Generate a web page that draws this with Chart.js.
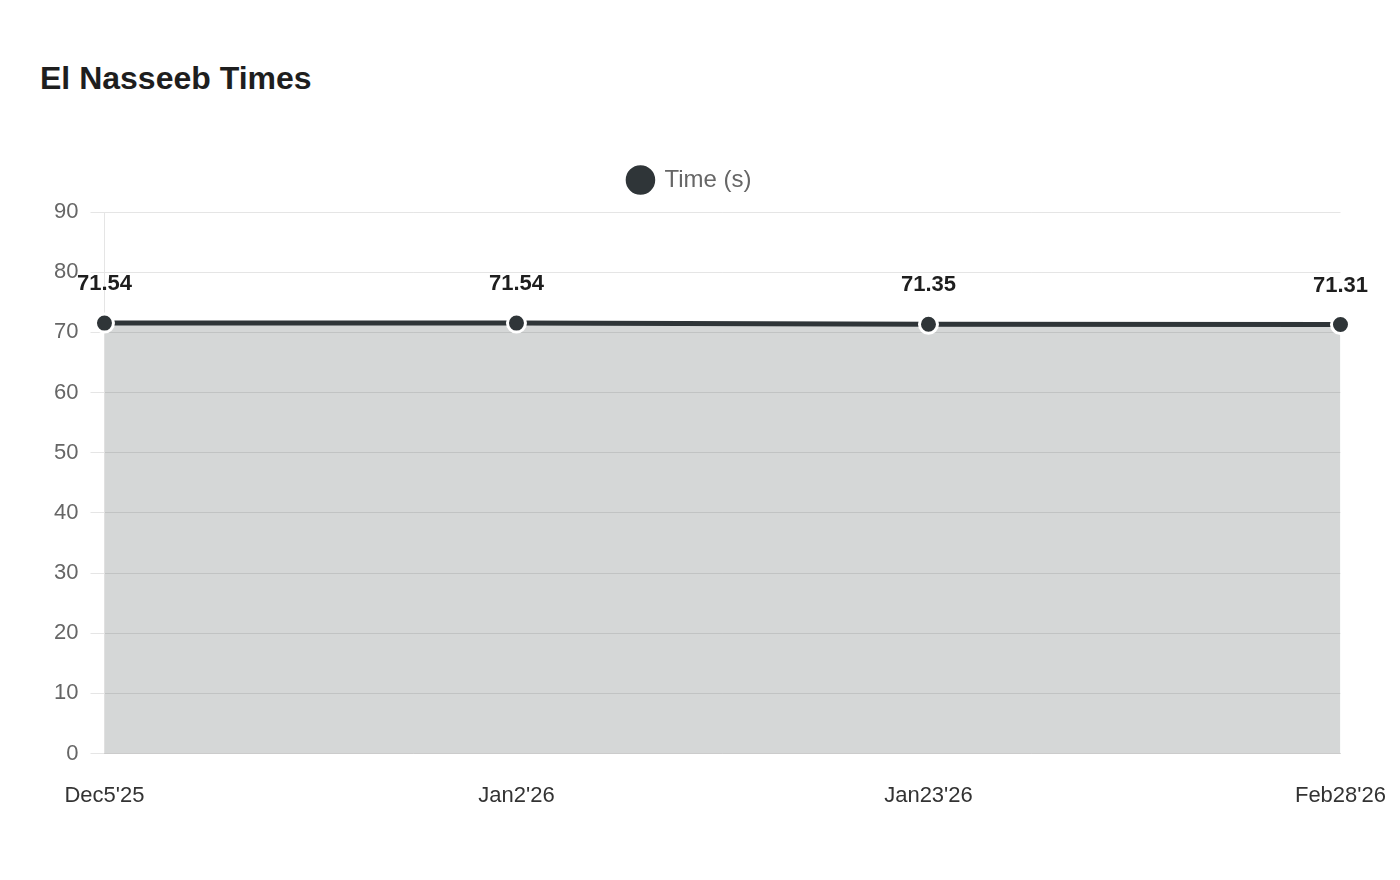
<!DOCTYPE html>
<html>
<head>
<meta charset="utf-8">
<script src="https://cdn.jsdelivr.net/npm/chart.js"></script>
<style>
    html, body { margin: 0; padding: 0; background: #fff; }
    body { width: 1400px; height: 880px; position: relative; overflow: hidden; font-family: "Liberation Sans", Arial, sans-serif; }
    h2 { position: absolute; left: 40px; top: 58px; margin: 0; font-size: 32px; font-weight: bold; color: #1e1e1e; line-height: 40px; }
    #wrap { position: absolute; left: 0; top: 0; width: 1407px; height: 880px; }
</style>
</head>
<body>
<h2>El Nasseeb Times</h2>
<div id="wrap"><canvas id="times-chart"></canvas></div>
<script>
// Data
const raceDates = ["Dec5'25", "Jan2'26", "Jan23'26", "Feb28'26"];
const raceTimes = [71.54, 71.54, 71.35, 71.31];
const yTicks = { min: 0, max: 90, step: 10 };

const lineColor = '#2f3538';
const fillColor = 'rgba(47, 53, 56, 0.2)';

// Value labels above each point (no datalabels plugin available offline)
const valueLabels = {
    id: 'valueLabels',
    afterDatasetsDraw(chart) {
        const { ctx } = chart;
        const meta = chart.getDatasetMeta(0);
        ctx.save();
        ctx.font = 'bold 22px "Liberation Sans", Arial, sans-serif';
        ctx.fillStyle = '#1e1e1e';
        ctx.textAlign = 'center';
        ctx.textBaseline = 'middle';
        meta.data.forEach((pt, i) => {
            ctx.fillText(raceTimes[i].toFixed(2), pt.x, pt.y - 39);
        });
        ctx.restore();
    }
};

// Extra room under the legend, and nudge it a little left
const legendTweak = {
    id: 'legendTweak',
    beforeInit(chart) {
        const fit = chart.legend.fit;
        chart.legend.fit = function () {
            fit.call(this);
            this.height += 10;
        };
    },
    afterLayout(chart) {
        chart.legend.left -= 15;
        chart.legend.right -= 15;
    }
};

Chart.defaults.font.family = '"Liberation Sans", Arial, sans-serif';
Chart.defaults.color = '#666';

new Chart(document.getElementById('times-chart'), {
    type: 'line',
    data: {
        labels: raceDates,
        datasets: [{
            label: 'Time (s)',
            data: raceTimes,
            borderColor: lineColor,
            backgroundColor: fillColor,
            fill: true,
            borderWidth: 5,
            tension: 0,
            pointRadius: 9,
            pointHoverRadius: 9,
            pointBackgroundColor: lineColor,
            pointBorderColor: '#fff',
            pointBorderWidth: 3,
            clip: false
        }]
    },
    options: {
        responsive: true,
        maintainAspectRatio: false,
        animation: false,
        layout: { padding: { left: 42, right: 39, top: 158, bottom: 50 } },
        plugins: {
            legend: {
                display: true,
                labels: {
                    usePointStyle: true,
                    pointStyle: 'circle',
                    boxHeight: 23,
                    font: { size: 24 },
                    color: '#666',
                    padding: 10
                }
            },
            tooltip: { enabled: false }
        },
        scales: {
            x: {
                grid: { display: false },
                border: { display: true, color: 'rgba(0,0,0,0.1)' },
                ticks: { font: { size: 22 }, color: '#333', padding: 21, maxRotation: 0 }
            },
            y: {
                min: yTicks.min,
                max: yTicks.max,
                grid: { color: 'rgba(0,0,0,0.1)', tickLength: 14 },
                border: { display: true, color: 'rgba(0,0,0,0.1)' },
                ticks: { stepSize: yTicks.step, font: { size: 22 }, color: '#666', padding: 12 }
            }
        }
    },
    plugins: [valueLabels, legendTweak]
});
</script>
</body>
</html>
